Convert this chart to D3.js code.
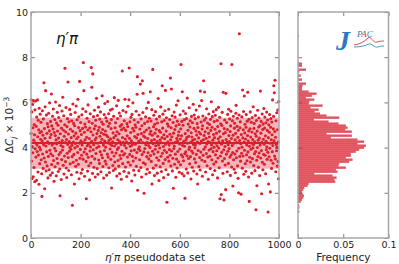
<!DOCTYPE html>
<html>
<head>
<meta charset="utf-8">
<script src="https://cdn.jsdelivr.net/npm/d3@7"></script>
<style>
body { margin: 0; background: #fff; }
text { font-family: "DejaVu Sans", sans-serif; }
</style>
</head>
<body>
<div id="chart"></div>
<script>
// delta C_j (x 10^-3) for each of the 1000 pseudodata sets
var pseudoData = [
4.62,6.12,3.41,5.58,2.63,4.05,5.91,3.77,4.88,2.71,6.08,4.33,3.12,5.02,4.57,2.49,5.67,3.95,4.21,6.06,
3.58,4.94,2.55,5.35,4.12,3.83,6.11,4.48,2.92,5.21,3.67,4.79,2.38,5.74,4.02,3.29,4.66,5.48,3.91,4.37,
5.12,3.46,4.71,2.84,1.84,4.29,5.63,3.72,4.55,3.08,5.27,4.13,6.87,3.54,4.84,2.18,4.41,5.81,3.36,6.52,
4.07,2.97,5.44,3.81,4.63,3.19,5.06,4.26,2.66,4.92,3.61,5.52,4.18,3.02,4.74,5.98,3.88,4.45,2.78,5.16,
3.73,4.58,6.37,3.25,4.96,4.11,2.89,5.39,3.64,4.82,5.71,3.43,4.19,2.51,4.67,3.97,5.24,3.15,4.53,6.02,
3.86,4.34,2.75,5.09,4.16,3.52,5.56,4.73,3.31,4.99,2.94,4.42,5.33,3.69,4.24,5.86,3.05,1.87,4.61,3.79,
5.18,4.09,2.59,4.86,3.47,5.62,4.31,3.89,6.23,4.04,3.22,4.77,5.41,2.83,4.50,3.63,5.01,7.51,4.22,3.38,
4.69,5.77,3.10,4.36,2.68,4.93,3.75,5.28,4.14,6.90,3.56,4.60,2.99,5.14,4.27,3.84,5.69,4.01,3.28,4.81,
5.47,3.93,4.44,2.80,5.19,4.10,3.60,1.45,4.72,5.93,3.35,4.25,5.07,3.70,4.52,2.39,4.97,3.99,5.55,4.18,
3.17,4.64,5.84,3.44,4.39,2.91,5.23,4.06,3.78,6.14,4.47,3.26,4.89,5.36,2.62,4.20,6.93,3.53,4.75,3.92,
5.11,4.30,2.87,4.58,3.66,5.45,4.12,3.03,4.85,5.72,3.49,7.76,4.23,6.52,3.80,4.68,2.73,5.04,4.35,3.95,
4.91,5.60,3.39,1.74,4.46,3.71,5.30,4.08,2.96,4.78,5.89,3.57,4.15,3.20,5.15,4.40,2.57,4.87,3.85,5.50,
4.03,3.32,4.70,7.54,4.28,6.67,3.62,5.08,2.86,7.26,4.56,3.90,5.37,4.13,3.13,4.83,5.65,3.50,4.34,2.70,
4.97,5.21,3.74,4.43,6.18,3.99,4.62,3.07,5.42,4.19,2.82,4.76,5.79,3.45,4.05,4.90,3.30,5.26,4.50,3.82,
5.58,4.24,2.93,4.66,3.68,5.13,4.37,6.29,3.55,4.80,3.16,5.03,4.11,2.65,4.59,5.46,3.87,4.29,5.95,3.40,
4.73,4.02,5.32,3.27,4.55,2.78,5.17,4.21,3.71,6.04,4.48,3.58,4.94,5.50,3.11,4.32,2.90,5.08,4.16,3.94,
5.66,4.39,3.48,4.84,5.24,2.21,4.09,3.79,5.71,4.26,3.21,4.65,2.99,5.39,4.44,3.63,6.21,4.07,3.36,4.88,
3.06,5.10,4.53,3.76,4.17,5.85,2.74,4.70,3.92,5.29,4.35,3.43,6.09,4.00,3.18,4.61,5.53,2.85,4.27,3.66,
4.95,5.40,3.52,4.14,2.60,4.79,5.02,3.84,7.39,4.45,3.29,5.64,4.23,3.67,4.86,2.95,5.19,4.10,3.74,6.14,
4.38,3.14,4.76,5.57,3.98,4.25,2.72,5.06,4.52,3.58,4.93,5.83,3.35,4.18,2.88,6.12,7.52,4.41,3.70,5.14,
4.06,3.23,4.67,5.34,3.86,4.30,2.52,5.47,4.12,3.61,4.85,5.98,3.41,4.20,3.00,4.74,5.22,3.89,4.49,2.79,
5.01,4.15,3.54,4.90,5.61,3.17,4.43,3.78,6.36,7.14,2.11,4.58,5.12,3.94,4.28,2.98,5.44,4.03,3.46,4.82,
3.87,6.81,4.34,3.12,5.27,4.62,2.70,4.97,3.69,6.96,4.22,5.55,6.40,3.33,4.51,3.81,1.98,4.69,5.07,3.96,
4.46,3.27,5.36,4.13,2.83,4.78,5.74,3.60,4.24,3.04,5.15,4.40,3.77,6.00,4.09,3.50,4.87,5.30,2.90,4.60,
4.00,6.47,3.65,4.72,5.18,3.39,4.31,5.68,2.39,4.55,3.84,7.46,4.17,3.09,4.92,5.43,3.72,4.36,2.76,5.03,
4.64,3.93,5.59,4.08,3.22,4.81,5.26,3.55,4.27,2.87,5.09,4.50,3.80,6.17,4.12,3.44,2.54,4.75,5.38,3.98,
4.33,3.15,4.68,5.80,3.62,4.21,2.94,5.14,4.44,6.74,3.75,4.86,5.48,3.30,4.05,2.67,4.57,5.20,3.88,4.39,
5.63,3.47,6.53,4.15,3.02,4.73,5.32,3.79,1.58,4.49,5.05,3.57,4.26,2.81,4.95,5.70,3.40,4.11,3.91,5.24,
4.59,3.66,7.08,4.35,3.19,4.88,6.59,3.85,4.48,5.41,2.97,4.20,3.53,5.11,2.20,4.64,3.96,5.57,4.07,3.26,
4.80,5.35,3.71,4.25,2.69,4.96,5.88,3.49,4.41,3.10,5.17,4.30,3.83,6.07,4.54,3.37,4.70,5.02,2.91,4.16,
3.94,5.45,4.38,3.24,4.83,7.68,3.68,4.52,5.16,2.85,6.47,4.10,3.59,4.99,5.62,3.42,4.28,2.75,5.23,4.06,
3.73,1.76,4.62,5.51,3.81,4.34,3.05,5.29,4.45,3.64,6.19,4.19,2.88,4.77,5.04,3.52,4.50,3.92,5.76,4.02,
3.28,4.91,5.19,3.60,4.23,2.61,4.66,5.38,3.85,4.47,3.13,5.10,4.32,3.76,5.92,4.14,2.96,4.85,5.44,3.50,
4.37,3.99,5.28,4.11,3.34,4.74,5.66,3.70,4.56,2.83,5.06,4.25,2.39,4.89,3.87,5.35,4.43,3.16,4.68,5.84,
3.56,4.18,3.01,6.50,4.60,3.80,5.13,4.29,6.08,3.45,4.82,2.73,4.97,5.40,3.66,4.35,6.96,3.93,4.54,5.21,
6.46,3.39,4.70,4.03,2.92,5.31,4.41,3.74,5.72,4.16,3.20,4.87,5.09,3.58,4.27,2.60,4.63,5.49,3.89,4.47,
5.02,3.62,4.22,3.07,5.25,4.76,3.95,6.03,4.12,3.46,4.90,5.37,2.80,4.33,3.82,5.59,4.58,3.27,4.01,5.15,
4.44,2.99,4.81,5.43,3.68,4.20,3.37,5.68,4.64,3.86,4.08,5.20,2.66,4.93,3.54,4.39,5.78,3.98,4.26,3.11,
4.72,5.34,1.74,4.48,3.63,5.05,7.71,1.92,4.15,3.79,4.98,5.56,3.41,4.30,2.86,6.45,4.61,3.90,1.68,4.84,
3.52,5.22,4.05,3.23,4.67,2.14,6.40,4.36,3.71,5.11,4.24,2.93,4.80,5.47,3.84,4.13,3.30,5.70,4.53,3.96,
4.27,5.27,3.58,4.71,2.77,4.96,5.61,3.67,4.40,3.14,7.68,4.09,5.19,3.78,2.30,4.55,5.39,3.46,4.19,3.04,
4.86,5.08,3.72,4.34,2.89,4.63,5.52,5.87,3.55,4.22,3.85,4.94,5.30,3.19,4.46,2.64,4.77,2.00,3.97,5.44,
9.04,4.31,3.61,4.88,5.14,3.40,4.17,1.94,4.58,3.75,5.36,4.02,3.09,6.55,4.43,3.63,4.79,5.60,2.82,4.25,
6.28,3.88,4.65,5.03,3.29,4.38,2.95,4.90,5.46,3.68,4.12,3.42,5.17,4.53,6.45,3.81,4.29,2.70,4.74,5.25,
1.62,4.06,3.57,4.83,5.58,3.36,4.47,3.93,5.12,4.20,2.87,4.69,5.33,3.51,4.36,3.99,5.81,4.14,3.21,4.85,
5.07,3.73,4.26,2.98,4.61,5.42,3.83,1.25,4.50,5.20,3.44,2.31,4.73,4.00,5.65,3.60,4.33,3.13,4.91,5.31,
3.76,4.42,2.76,4.97,4.11,6.50,3.54,4.64,5.16,3.87,1.96,4.23,5.49,3.35,4.80,3.02,5.04,4.37,3.70,5.73,
4.15,3.26,4.86,5.35,3.66,4.52,2.84,5.10,4.28,3.91,5.57,4.04,3.48,4.76,5.22,3.79,1.15,4.44,2.39,5.01,
3.59,4.68,5.46,3.97,4.19,2.04,4.90,5.28,3.44,4.35,3.08,5.13,4.57,3.82,6.11,4.09,3.31,4.83,5.38,6.74,
4.30,6.43,3.63,4.71,6.98,3.50,4.46,2.93,5.19,4.14,3.86,5.54,4.01,3.18,4.79,5.66,3.39,4.25,2.62,6.04
];

// histogram panel: frequency per bin, bins start at histStart, width histWidth
var histStart = 1.13;
var histWidth = 0.0885;
var histFreq = [
0.0015,0,0.0015,0.0015,0,0.003,0.0044,0.0059,0.0066,0.0051,
0.0044,0.0059,0.007,0.0107,0.0118,0.0412,0.040,0.0426,0.0382,0.018,
0.0437,0.0419,0.0529,0.0448,0.0456,0.0566,0.0603,0.0529,0.0584,0.0584,
0.0639,0.0676,0.0731,0.075,0.0658,0.0731,0.0658,0.0364,0.0595,0.0316,
0.0595,0.0522,0.0548,0.0529,0.0448,0.0338,0.0176,0.0456,0.0316,0.0243,
0.0184,0.0228,0.014,0.0272,0.0118,0.0125,0.018,0.0088,0.0154,0.0206,
0.0118,0.0044,0.0044,0.0051,0.0088,0,0.0044,0,0.003,0,
0.0015,0.0088,0,0.0044,0.0044,0,0,0,0,0,
0,0,0,0,0,0,0,0,0.0011
];

// mean and one-sigma band
var meanValue = 4.2;
var bandLow = 3.07;
var bandHigh = 5.32;

var xTicks = [0, 200, 400, 600, 800, 1000];
var yTicks = [0, 2, 4, 6, 8, 10];
var freqTicks = [0, 0.05, 0.1];

var W = 399, H = 264;
var svg = d3.select("#chart").append("svg")
    .attr("width", W)
    .attr("height", H);

var x = d3.scaleLinear().domain([0, 1000]).range([31, 279]);
var y = d3.scaleLinear().domain([0, 10]).range([238, 12]);
var fx = d3.scaleLinear().domain([0, 0.1]).range([298, 388.5]);

var spineColor = "#a8a8a8", tickColor = "#555";

// --- main panel ---
svg.append("rect")
    .attr("x", x(0))
    .attr("width", x(1000) - x(0))
    .attr("y", y(bandHigh))
    .attr("height", y(bandLow) - y(bandHigh))
    .attr("fill", "#f3b6bc");

svg.append("g").selectAll("circle")
    .data(pseudoData)
    .enter()
    .append("circle")
    .attr("cx", function (d, i) { return x(i); })
    .attr("cy", function (d) { return y(d); })
    .attr("r", 1.55)
    .attr("fill", "#dc1f2b");

svg.append("line")
    .attr("x1", x(0)).attr("x2", x(1000))
    .attr("y1", y(meanValue)).attr("y2", y(meanValue))
    .attr("stroke", "#d8202c")
    .attr("stroke-width", 2);

// --- histogram panel ---
// bars overlap a little so the seams between them stay faint
svg.append("g").selectAll("rect")
    .data(histFreq)
    .enter()
    .append("rect")
    .attr("x", fx(0))
    .attr("y", function (d, i) { return y(histStart + (i + 1) * histWidth); })
    .attr("height", function (d, i) {
        return y(histStart + i * histWidth) - y(histStart + (i + 1) * histWidth) + 0.4;
    })
    .attr("width", function (d) { return fx(d) - fx(0); })
    .attr("fill", "#e1545f");

function styleAxis(g) {
    g.select(".domain").remove();
    g.selectAll(".tick line").attr("stroke", tickColor).attr("stroke-width", 0.8);
    g.selectAll(".tick text")
        .attr("fill", "#222")
        .style("font-size", "9.5px")
        .style("font-family", "'DejaVu Sans', sans-serif");
}

function frame(x0, x1) {
    svg.append("rect")
        .attr("x", x0)
        .attr("y", y(10))
        .attr("width", x1 - x0)
        .attr("height", y(0) - y(10))
        .attr("fill", "none")
        .attr("stroke", spineColor)
        .attr("stroke-width", 1.5);
}

// main axes, ticks pointing inward
svg.append("g")
    .attr("transform", "translate(0," + y(0) + ")")
    .call(d3.axisBottom(x).tickValues(xTicks).tickSize(-4).tickPadding(3).tickFormat(d3.format("d")))
    .call(styleAxis);
svg.append("g")
    .attr("transform", "translate(0," + y(10) + ")")
    .call(d3.axisTop(x).tickValues(xTicks).tickSize(-4).tickFormat(""))
    .call(styleAxis);
svg.append("g")
    .attr("transform", "translate(" + x(0) + ",0)")
    .call(d3.axisLeft(y).tickValues(yTicks).tickSize(-4).tickPadding(3))
    .call(styleAxis);
svg.append("g")
    .attr("transform", "translate(" + x(1000) + ",0)")
    .call(d3.axisRight(y).tickValues(yTicks).tickSize(-4).tickFormat(""))
    .call(styleAxis);
frame(x(0), x(1000));

// histogram axes
svg.append("g")
    .attr("transform", "translate(0," + y(0) + ")")
    .call(d3.axisBottom(fx).tickValues(freqTicks).tickSize(-4).tickPadding(3).tickFormat(function (d) { return d; }))
    .call(styleAxis);
svg.append("g")
    .attr("transform", "translate(0," + y(10) + ")")
    .call(d3.axisTop(fx).tickValues(freqTicks).tickSize(-4).tickFormat(""))
    .call(styleAxis);
svg.append("g")
    .attr("transform", "translate(" + fx(0) + ",0)")
    .call(d3.axisLeft(y).tickValues(yTicks).tickSize(-4).tickFormat(""))
    .call(styleAxis);
svg.append("g")
    .attr("transform", "translate(" + fx(0.1) + ",0)")
    .call(d3.axisRight(y).tickValues(yTicks).tickSize(-4).tickFormat(""))
    .call(styleAxis);
frame(fx(0), fx(0.1));

// axis labels
var xl = svg.append("text")
    .attr("x", (x(0) + x(1000)) / 2)
    .attr("y", 261)
    .attr("text-anchor", "middle")
    .style("font-size", "10.5px")
    .attr("fill", "#222");
xl.append("tspan").style("font-style", "italic").text("η′π");
xl.append("tspan").text(" pseudodata set");

svg.append("text")
    .attr("x", (fx(0) + fx(0.1)) / 2)
    .attr("y", 261)
    .attr("text-anchor", "middle")
    .style("font-size", "10.5px")
    .attr("fill", "#222")
    .text("Frequency");

var yl = svg.append("text")
    .attr("transform", "translate(13," + 125 + ") rotate(-90)")
    .attr("text-anchor", "middle")
    .style("font-size", "10.5px")
    .attr("fill", "#222");
yl.append("tspan").text("Δ");
yl.append("tspan").style("font-style", "italic").text("C");
yl.append("tspan").attr("dy", 3).style("font-size", "7.5px").style("font-style", "italic").text("j");
yl.append("tspan").attr("dy", -3).text(" × 10");
yl.append("tspan").attr("dy", -4).style("font-size", "7.5px").text("−3");

// panel title
svg.append("text")
    .attr("x", 56)
    .attr("y", 44)
    .style("font-size", "15px")
    .style("font-style", "italic")
    .attr("fill", "#111")
    .text("η′π");

// JPAC logo
var logo = svg.append("g");
logo.append("text")
    .attr("x", 336)
    .attr("y", 50)
    .style("font-family", "'Liberation Serif', serif")
    .style("font-size", "28px")
    .style("font-weight", "bold")
    .style("font-style", "italic")
    .attr("fill", "#2a7bbd")
    .text("J");
var pac = logo.append("text")
    .attr("x", 357)
    .attr("y", 37)
    .style("font-family", "'Liberation Serif', serif")
    .style("font-size", "9px")
    .style("font-style", "italic");
pac.append("tspan").attr("fill", "#2a7bbd").text("P");
pac.append("tspan").attr("fill", "#d9202c").text("A");
pac.append("tspan").attr("fill", "#2a7bbd").text("C");
logo.append("path")
    .attr("d", "M354,45 C360,44 364,42 368,38 C371,35 373,44 377,42 C380,41 382,41 384,41")
    .attr("fill", "none").attr("stroke", "#d9202c").attr("stroke-width", 0.8);
logo.append("path")
    .attr("d", "M354,47 C360,47 365,46 369,44 C372,43 374,48 378,47 C381,46 382,46 384,46")
    .attr("fill", "none").attr("stroke", "#2a7bbd").attr("stroke-width", 0.8);
</script>
</body>
</html>
